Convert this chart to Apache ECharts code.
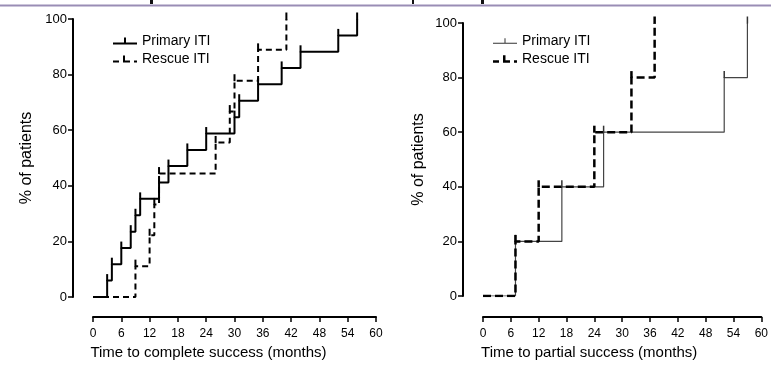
<!DOCTYPE html>
<html>
<head>
<meta charset="utf-8">
<script src="https://cdn.jsdelivr.net/npm/echarts@6/dist/echarts.min.js"></script>
<style>
html,body{margin:0;padding:0;background:#fff;}
#chart{width:771px;height:365px;}
</style>
</head>
<body>
<div id="chart"></div>
<script>
// Panel A: time to complete success
const completePrimaryTimes = [0, 3, 4, 6, 8, 9, 10, 14, 16, 20, 24, 30, 31, 35, 40, 44, 52, 56];
const completePrimaryPct = [0, 5.9, 11.8, 17.6, 23.5, 29.4, 35.3, 41.2, 47.1, 52.9, 58.8, 64.7, 70.6, 76.5, 82.4, 88.2, 94.1, 100];
const completeRescueTimes = [0, 9, 12, 13, 14, 26, 29, 30, 35, 41];
const completeRescuePct = [0, 11.1, 22.2, 33.3, 44.4, 55.6, 66.7, 77.8, 88.9, 100];
// Panel B: time to partial success
const partialPrimaryTimes = [0, 7, 17, 26, 52, 57];
const partialPrimaryPct = [0, 20, 40, 60, 80, 100];
const partialRescueTimes = [0, 7, 12, 24, 32, 37];
const partialRescuePct = [0, 20, 40, 60, 80, 100];

const xTicks = [0, 6, 12, 18, 24, 30, 36, 42, 48, 54, 60];
const yTicks = [0, 20, 40, 60, 80, 100];
const seriesNames = ['Primary ITI', 'Rescue ITI'];
const xTitles = ['Time to complete success (months)', 'Time to partial success (months)'];
const yTitle = '% of patients';

const SANS = '"Liberation Sans", Arial, sans-serif';

function toData(times, pct) {
  return times.map((t, i) => i === 0 ? { value: [t, pct[i]], symbol: 'none' } : { value: [t, pct[i]] });
}

const chart = echarts.init(document.getElementById('chart'), null, { renderer: 'canvas' });

function xAxis(gi, offset, shift) {
  return {
    type: 'value', gridIndex: gi, min: xTicks[0], max: xTicks[xTicks.length - 1], interval: 6,
    offset: offset,
    axisLine: { show: true, onZero: false, lineStyle: { color: '#000', width: 2 } },
    axisTick: { show: true, length: 5, lineStyle: { color: '#000', width: 1.5 } },
    axisLabel: { color: '#000', fontSize: 12, fontFamily: SANS, margin: 11 },
    splitLine: { show: false },
    name: xTitles[gi], nameLocation: 'middle', nameGap: 28,
    nameTextStyle: { color: '#000', fontSize: 15, fontFamily: SANS, padding: [0, shift, 0, 0] }
  };
}
function yAxis(gi, gap) {
  return {
    type: 'value', gridIndex: gi, min: yTicks[0], max: yTicks[yTicks.length - 1], interval: 20,
    offset: 20,
    axisLine: { show: true, onZero: false, lineStyle: { color: '#000', width: 2 } },
    axisTick: { show: true, length: 5, lineStyle: { color: '#000', width: 1.5 } },
    axisLabel: { color: '#000', fontSize: 13, fontFamily: SANS, margin: 6 },
    splitLine: { show: false },
    name: yTitle, nameLocation: 'middle', nameGap: gap,
    nameTextStyle: { color: '#000', fontSize: 16, fontFamily: SANS }
  };
}

// legend icons: line sample with a small censor tick
const ICON_SOLID = 'path://M0,5h24v2h-24z M11,0h2v7h-2z';
const ICON_DASH = 'path://M0,5h6v2h-6z M10,5h7v2h-7z M10,0h2v7h-2z M21,5h3v2h-3z';
const ICON_THIN = 'path://M0,5.5h24v1h-24z M11.5,1h1v5.5h-1z';
const ICON_DASH_B = 'path://M0,5h6v2.5h-6z M10,5h7v2.5h-7z M10,0h2.5v7.5h-2.5z M21,5h3v2.5h-3z';

const option = {
  animation: false,
  backgroundColor: '#fff',
  grid: [
    { left: 93, width: 283, top: 19, height: 279 },
    { left: 483, width: 280, top: 23, height: 276 }
  ],
  xAxis: [xAxis(0, 20, 52), xAxis(1, 21, 66)],
  yAxis: [yAxis(0, 38), yAxis(1, 36)],
  legend: [
    {
      data: [{ name: seriesNames[0], icon: ICON_SOLID }, { name: seriesNames[1], icon: ICON_DASH }],
      orient: 'vertical', left: 108, top: 29, itemWidth: 24, itemHeight: 8, itemGap: 4,
      textStyle: { color: '#000', fontSize: 14, fontFamily: SANS },
      formatter: n => n.trim()
    },
    {
      data: [{ name: seriesNames[0] + ' ', icon: ICON_THIN }, { name: seriesNames[1] + ' ', icon: ICON_DASH_B }],
      orient: 'vertical', left: 488, top: 29, itemWidth: 24, itemHeight: 8, itemGap: 4,
      textStyle: { color: '#000', fontSize: 14, fontFamily: SANS },
      formatter: n => n.trim()
    }
  ],
  series: [
    {
      name: seriesNames[0], type: 'line', step: 'end', xAxisIndex: 0, yAxisIndex: 0,
      data: toData(completePrimaryTimes, completePrimaryPct),
      symbol: 'rect', symbolSize: [2, 7], symbolOffset: [0, -3], showSymbol: true,
      itemStyle: { color: '#000' }, lineStyle: { color: '#000', width: 2 },
      emphasis: { disabled: true }
    },
    {
      name: seriesNames[1], type: 'line', step: 'end', xAxisIndex: 0, yAxisIndex: 0,
      data: toData(completeRescueTimes, completeRescuePct),
      symbol: 'rect', symbolSize: [2, 7], symbolOffset: [0, -3], showSymbol: true,
      itemStyle: { color: '#000' }, lineStyle: { color: '#000', width: 2, type: [6, 4] },
      emphasis: { disabled: true }
    },
    {
      name: seriesNames[0] + ' ', type: 'line', step: 'end', xAxisIndex: 1, yAxisIndex: 1,
      data: toData(partialPrimaryTimes, partialPrimaryPct),
      symbol: 'rect', symbolSize: [1.5, 7], symbolOffset: [0, -3], showSymbol: true,
      itemStyle: { color: '#333' }, lineStyle: { color: '#444', width: 1.2 },
      emphasis: { disabled: true }
    },
    {
      name: seriesNames[1] + ' ', type: 'line', step: 'end', xAxisIndex: 1, yAxisIndex: 1,
      data: toData(partialRescueTimes, partialRescuePct),
      symbol: 'rect', symbolSize: [2.5, 7], symbolOffset: [0, -3], showSymbol: true,
      itemStyle: { color: '#000' }, lineStyle: { color: '#000', width: 2.5, type: [8, 4] },
      emphasis: { disabled: true }
    }
  ],
  graphic: [
    { type: 'rect', shape: { x: 0, y: 4.5, width: 771, height: 2 }, style: { fill: '#9a8db5' }, silent: true },
    { type: 'rect', shape: { x: 150, y: 0, width: 3, height: 4 }, style: { fill: '#111' }, silent: true },
    { type: 'rect', shape: { x: 412, y: 0, width: 2, height: 4 }, style: { fill: '#111' }, silent: true },
    { type: 'rect', shape: { x: 481, y: 0, width: 3, height: 4 }, style: { fill: '#111' }, silent: true }
  ]
};
chart.setOption(option);
</script>
</body>
</html>
